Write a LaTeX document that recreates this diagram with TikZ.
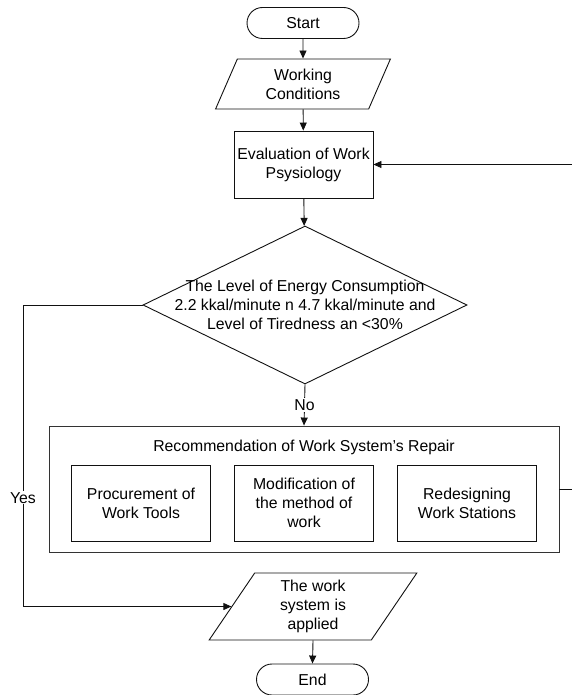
\documentclass[tikz,border=0pt]{standalone}
\usepackage{fontspec}
\setmainfont{Liberation Sans}
\usetikzlibrary{arrows.meta, shapes.geometric, shapes.misc}
\definecolor{darkline}{HTML}{111111}
\definecolor{groupborder}{HTML}{333333}
\tikzset{
  chart/.style={x=1pt, y=-1pt, font=\fontsize{15.8}{19}\selectfont},
  basic/.style={align=center, draw=darkline, line width=0.9pt, inner sep=0pt, fill=white},
  terminal/.style={basic, rounded rectangle, minimum width=112pt, minimum height=31pt},
  io/.style={basic, trapezium, trapezium stretches=true},
  process/.style={basic, rectangle, minimum width=139pt, minimum height=67pt},
  decision/.style={basic, diamond, minimum width=324pt, minimum height=158pt},
  subtask/.style={basic, rectangle, minimum width=139pt, minimum height=76pt},
  group/.style={rectangle, draw=groupborder, line width=0.9pt, minimum width=510pt, minimum height=126pt},
  flow/.style={-{Triangle[length=8pt, width=7pt]}, line width=0.9pt, draw=darkline},
  link/.style={line width=0.9pt, draw=darkline},
  edge-label/.style={fill=white, inner sep=1pt}
}

\begin{document}
\begin{tikzpicture}[chart]
\useasboundingbox (0,0) rectangle (572,695);

\node[terminal] (start) at (303, 23) {Start};
\node[io, trapezium left angle=68, trapezium right angle=112,
      minimum width=176pt, minimum height=50pt] (conditions) at (303, 84) {Working\\Conditions};
\node[process] (evaluation) at (303.5, 164.5) {Evaluation of Work\\Psysiology};

\node[decision] (check) at (305, 305) {};
\node[align=center] (checktext) at (305, 305) {The Level of Energy Consumption\\2.2 kkal/minute n 4.7 kkal/minute and\\Level of Tiredness an <30\%};

\node[group] (repair) at (304, 489) {};
\node (repairtitle) at (304, 447) {Recommendation of Work System’s Repair};
\node[subtask] (tools) at (141, 503) {Procurement of\\Work Tools};
\node[subtask] (method) at (304, 503) {Modification of\\the method of\\work};
\node[subtask] (stations) at (467, 503) {Redesigning\\Work Stations};

\node[io, trapezium left angle=64, trapezium right angle=116,
      minimum width=208pt, minimum height=67pt] (applied) at (313, 606.5) {The work\\system is\\applied};
\node[terminal] (end) at (312.5, 679.5) {End};

\coordinate (yesbend) at (23, 305);
\coordinate (backline) at (575, 489);

\draw[flow] (start) -- (conditions);
\draw[flow] (conditions) -- (evaluation);
\draw[flow] (evaluation) -- (check);
\draw[flow] (check.south) -- node[edge-label] {No} (repair.north);
\draw[link] (check.west) -- (yesbend);
\draw[flow] (yesbend) |- node[edge-label, pos=0.32] {Yes} (applied.west);
\draw[flow] (applied.south) -- (end.north);
\draw[flow] (repair.east) -- (backline) |- (evaluation.east);

\end{tikzpicture}
\end{document}
